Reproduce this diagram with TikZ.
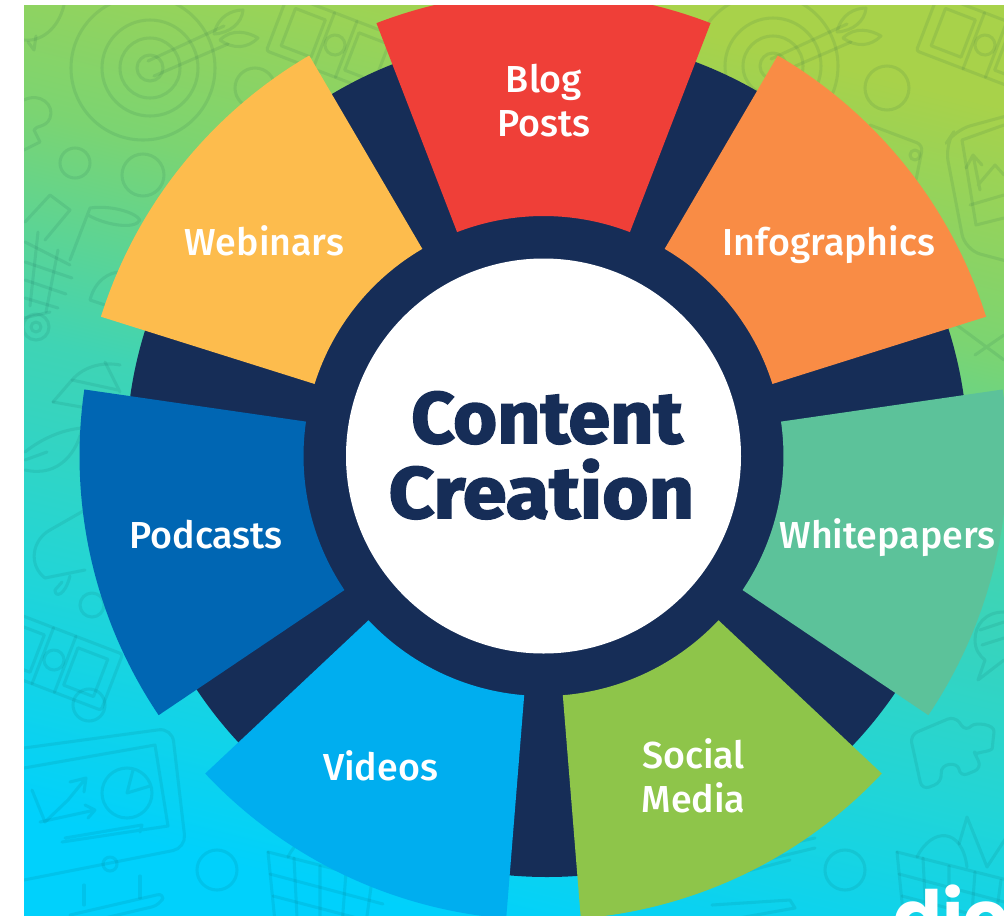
\documentclass[tikz,border=0pt]{standalone}
\usepackage{fontspec}
\usepackage{graphicx}
\setmainfont{Fira Sans Medium}
\newfontfamily\heavyfont[FakeStretch=1.07,RawFeature={embolden=2.4}]{Fira Sans Bold}
\newfontfamily\logofont{Poppins}
\definecolor{navyc}{HTML}{162D57}
\definecolor{blogc}{HTML}{EF3F38}
\definecolor{webc}{HTML}{FDBC4D}
\definecolor{infoc}{HTML}{F98C45}
\definecolor{whitec}{HTML}{5CC29A}
\definecolor{socialc}{HTML}{8EC54A}
\definecolor{videoc}{HTML}{00AEEF}
\definecolor{podc}{HTML}{0066B3}
\definecolor{bga}{HTML}{00D1FC}
\definecolor{bgb}{HTML}{22D5D6}
\definecolor{bgc}{HTML}{3FD4B4}
\definecolor{bgd}{HTML}{7BD472}
\definecolor{bge}{HTML}{A8D24A}
\pgfdeclareverticalshading{bgshade}{100bp}{
 color(0bp)=(bga);color(25bp)=(bga);color(38bp)=(bgb);color(50bp)=(bgc);color(62bp)=(bgd);color(75bp)=(bge);color(100bp)=(bge)}
\tikzset{
 iconline/.style={draw=black!50!teal,draw opacity=.09,line width=2.3pt,line join=round,line cap=round,fill=none},
 sectorlabel/.style={text=white,font=\fontsize{28.2}{33}\selectfont,align=center,inner sep=0pt},
 centrelabel/.style={text=navyc,font=\heavyfont\fontsize{54.5}{54.5}\selectfont,inner sep=0pt,anchor=base},
 pics/targeticon/.style={code={
  \draw[iconline] (0,0) circle[radius=13] (0,0) circle[radius=30] (0,0) circle[radius=48] (-7,0) circle[radius=72];
  \draw[iconline] (-2,-7) -- (74,-42) (4,8) -- (78,-24);
  \draw[iconline] (64,-34) .. controls (68,-52) and (82,-58) .. (93,-58) .. controls (92,-45) and (80,-35) .. (64,-34);
  \draw[iconline] (70,-28) .. controls (82,-40) and (98,-36) .. (108,-30) .. controls (98,-20) and (84,-18) .. (70,-28);
 }},
 pics/billicon/.style={code={
  \draw[iconline,rotate=-21,rounded corners=2pt] (-62,-30) rectangle (62,30);
  \draw[iconline,rotate=-21] (-50,-20) rectangle (-18,20) (18,-20) rectangle (50,20) (0,0) circle[radius=10];
  \draw[iconline,rotate=-21] (-12,-30) -- (-12,30) (12,-30) -- (12,30);
 }},
 pics/basketicon/.style={code={
  \draw[iconline] (0,0) -- (118,30) (2,22) -- (115,52) (5,44) -- (112,72) (8,66) -- (108,92);
  \draw[iconline] (0,0) -- (8,80) (26,6) -- (30,85) (52,14) -- (52,95) (78,20) -- (72,100) (104,28) -- (94,100);
  \draw[iconline] (20,5) .. controls (35,-25) and (65,-25) .. (70,15);
  \draw[iconline] (62,-8) -- (70,-35) -- (90,15) (90,15) -- (118,-28) -- (135,-15) -- (112,28);
 }}
}
\begin{document}
\begin{tikzpicture}[x=0.75pt,y=-0.75pt]
\useasboundingbox (0,0) rectangle (1004,915);
\fill[white] (0,0) rectangle (1004,915);
\begin{scope}
\clip (24,5) rectangle (1004,915);
\shade[shading=bgshade,shading angle=-14] (24,5) rectangle (1004,915);

% faint background icons
\pic at (150,68) {targeticon};
\pic at (773,66) {targeticon};
\pic at (335,45) {billicon};
\pic at (985,45) {billicon};
\pic at (54,660) {billicon};
\pic at (268,852) {basketicon};
\pic at (897,852) {basketicon};
\draw[iconline] (75,163) circle[radius=15] (143,175) circle[radius=21] (255,88) circle[radius=20]
 (887,88) circle[radius=22] (92,605) circle[radius=12] (89,705) circle[radius=16]
 (217,870) circle[radius=20] (845,870) circle[radius=20];
% speech bubble and blob, upper left
\draw[iconline] (24,40) .. controls (40,42) and (58,30) .. (64,5);
\draw[iconline] (28,42) -- (34,50) -- (36,36);
\draw[iconline] (24,100) .. controls (40,92) and (55,105) .. (50,118) .. controls (46,128) and (36,125) .. (34,130) -- (40,142) -- (24,150);
% shopping cart
\draw[iconline] (25,242) -- (70,265) (25,262) -- (72,278) (25,280) -- (66,294) (25,298) -- (58,308);
\draw[iconline] (38,232) -- (30,306) (58,250) -- (46,312);
\draw[iconline] (25,222) -- (50,195) -- (70,210) -- (45,240);
\draw[iconline] (70,260) -- (90,208) .. controls (110,205) and (135,212) .. (140,220) .. controls (135,230) and (105,225) .. (88,215);
\draw[iconline] (36,327) circle[radius=13] (36,327) circle[radius=5];
\draw[iconline] (24,318) -- (50,312);
% helmet / hat
\draw[iconline] (90,300) .. controls (95,280) and (110,272) .. (120,272) (90,300) -- (135,315);
\draw[iconline] (53,402) -- (72,380) .. controls (85,365) and (105,362) .. (120,365);
\draw[iconline] (53,402) -- (110,412) (72,380) -- (118,390) (105,362) -- (120,392);
% hand / leaf
\draw[iconline] (25,470) .. controls (60,478) and (78,450) .. (82,428) .. controls (60,430) and (40,440) .. (25,452);
\draw[iconline] (25,460) -- (47,452);
% megaphone
\draw[iconline] (50,530) .. controls (32,540) and (28,565) .. (45,578) -- (85,570) (50,530) -- (85,510);
\draw[iconline] (62,582) -- (55,590) .. controls (55,598) and (65,596) .. (70,576);
% monitor
\draw[iconline,rounded corners=10pt] (24,748) -- (172,728) -- (186,848) -- (24,880);
\draw[iconline] (24,768) -- (155,745) -- (168,826) -- (62,842) (65,838) -- (142,825) -- (140,832);
\draw[iconline] (32,790) -- (45,822) -- (68,800) -- (86,778) (86,778) -- (70,782) (86,778) -- (84,792);
\draw[iconline] (40,822) -- (95,810) (95,810) -- (85,805) (95,810) -- (88,818);
\draw[iconline] (127,793) circle[radius=25] (127,793) -- (133,770) (127,793) -- (150,786);
\draw[iconline] (110,864) circle[radius=7];
\draw[iconline] (84,885) -- (84,905) (140,876) -- (140,898);
\draw[iconline,rounded corners=6pt] (70,915) -- (165,893) -- (160,905) -- (75,925);
% monitor lower right
\draw[iconline] (760,850) -- (815,838) (765,860) -- (815,848);
\draw[iconline] (713,880) -- (790,860) (712,905) -- (790,900) -- (795,908) -- (700,925);
% puzzle piece
\draw[iconline,rounded corners=6pt] (910,735) -- (955,716) -- (966,732) .. controls (975,722) and (995,724) .. (993,740) .. controls (992,752) and (975,752) .. (972,748) -- (982,768) -- (960,777) .. controls (958,762) and (940,762) .. (942,782) -- (922,790) -- cycle;
% speech bubble right
\draw[iconline] (1004,612) .. controls (985,612) and (975,625) .. (975,640) .. controls (975,650) and (980,656) .. (985,660) -- (978,680) -- (1004,660);
\draw[iconline] (980,630) -- (1004,622) (982,645) -- (1004,638);
% tablet right
\draw[iconline,rounded corners=12pt] (1010,115) -- (955,130) -- (945,145) -- (965,250) -- (1010,262);
\draw[iconline] (1004,125) -- (962,140) -- (976,225) -- (1004,218);
\draw[iconline] (970,205) -- (1004,195) (980,190) -- (973,155) -- (966,168) (973,155) -- (982,165) (978,185) -- (995,165) -- (1004,175);
% phone under infographics, envelope, small shapes
\draw[iconline,rounded corners=5pt] (870,125) -- (923,145) -- (915,185) -- (900,175);
\draw[iconline] (915,155) circle[radius=5];
\draw[iconline] (950,320) -- (1004,360) (1004,335) -- (975,355);

% wheel
\fill[navyc] (547,456) circle[radius=421];
\begin{scope}[shift={(543.5,456)},y=0.75pt]
\foreach \mid/\col in {90/blogc,38.571/infoc,-12.857/whitec,-64.286/socialc,-115.714/videoc,-167.143/podc,141.429/webc}{
  \pgfmathsetmacro\aa{\mid-21.1}
  \pgfmathsetmacro\bb{\mid+21.1}
  \fill[\col] (\aa:464) arc[start angle=\aa,end angle=\bb,radius=464] -- (\bb:240) arc[start angle=\bb,end angle=\aa,radius=240] -- cycle;
}
\end{scope}
\fill[white] (543.5,456) circle[radius=197.5];

\node[sectorlabel] (blog) at (544,101) {Blog\\Posts};
\node[sectorlabel,anchor=base] (webinars) at (264.5,255) {Webinars};
\node[sectorlabel,anchor=base] (infographics) at (829,255) {Infographics};
\node[sectorlabel,anchor=base] (whitepapers) at (887.5,548) {Whitepapers};
\node[sectorlabel,anchor=base] (podcasts) at (206,548) {Podcasts};
\node[sectorlabel,anchor=base] (videos) at (380.5,780) {Videos};
\node[sectorlabel] (social) at (693.5,776) {Social\\Media};
\node[centrelabel] (content) at (547,443) {\scalebox{0.97}[1]{Content}};
\node[centrelabel] (creation) at (541.5,518) {\scalebox{1.02}[1]{Creation}};
\node[anchor=base west,text=white,font=\logofont\bfseries\fontsize{54}{54}\selectfont,inner sep=0pt] (logo) at (893,942) {dio};
\end{scope}
\end{tikzpicture}
\end{document}
